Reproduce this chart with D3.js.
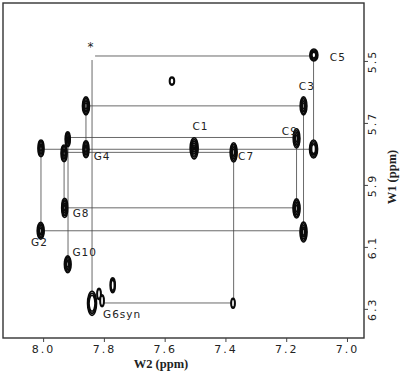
<!DOCTYPE html>
<html>
<head>
<meta charset="utf-8">
<script src="https://cdn.jsdelivr.net/npm/d3@7"></script>
<style>
  body { margin: 0; background: #fff; }
  text { font-family: "DejaVu Sans", sans-serif; fill: #222; }
</style>
</head>
<body>
<div id="nmr"></div>
<script>
// peaks: W2 / W1 position (ppm), half widths (ppm), number of contour levels
const peakW2 = [7.109, 7.576, 7.859, 7.143, 7.919, 7.166, 8.007, 7.931, 7.859, 7.503, 7.373,
  7.110, 7.929, 7.166, 8.008, 7.143, 7.919, 7.839, 7.816, 7.806, 7.771, 7.375];
const peakW1 = [5.481, 5.565, 5.645, 5.645, 5.753, 5.750, 5.782, 5.798, 5.785, 5.782, 5.795,
  5.784, 5.974, 5.976, 6.048, 6.052, 6.156, 6.282, 6.252, 6.274, 6.224, 6.282];
const peakHW2 = [0.0132, 0.0082, 0.0115, 0.011, 0.0082, 0.011, 0.0099, 0.0099, 0.0099, 0.0132, 0.0115,
  0.0132, 0.0099, 0.0115, 0.0115, 0.0115, 0.011, 0.0148, 0.0066, 0.0066, 0.0082, 0.0066];
const peakHW1 = [0.0194, 0.0129, 0.029, 0.029, 0.024, 0.031, 0.027, 0.027, 0.027, 0.034, 0.031,
  0.029, 0.031, 0.031, 0.027, 0.032, 0.027, 0.039, 0.018, 0.019, 0.024, 0.016];
const peakLevels = [4, 2, 5, 5, 5, 5, 5, 5, 5, 6, 5, 4, 5, 5, 5, 5, 5, 3, 2, 2, 3, 2];

// connectivity walk segments [w2a, w1a, w2b, w1b]
const walkSegments = [
  [7.829, 5.484, 7.112, 5.484],
  [7.839, 5.497, 7.839, 6.271],
  [7.859, 5.645, 7.145, 5.645],
  [7.918, 5.747, 7.168, 5.747],
  [8.007, 5.785, 7.112, 5.785],
  [7.931, 5.795, 7.375, 5.795],
  [7.931, 5.974, 7.168, 5.974],
  [8.007, 6.048, 7.145, 6.048],
  [7.803, 6.281, 7.375, 6.281],
  [8.007, 5.784, 8.007, 6.048],
  [7.931, 5.797, 7.931, 5.974],
  [7.918, 5.745, 7.918, 6.155],
  [7.859, 5.645, 7.859, 5.787],
  [7.373, 5.794, 7.373, 6.281],
  [7.166, 5.748, 7.166, 5.974],
  [7.143, 5.645, 7.143, 6.052],
  [7.110, 5.481, 7.110, 5.784]
];

// assignments
const labelText = ["*", "C5", "C3", "C1", "C9", "C7", "G4", "G8", "G2", "G10", "G6syn"];
const labelW2 = [7.842, 7.030, 7.132, 7.482, 7.188, 7.332, 7.806, 7.875, 8.012, 7.863, 7.740];
const labelW1 = [5.455, 5.487, 5.581, 5.710, 5.726, 5.806, 5.806, 5.990, 6.084, 6.116, 6.315];

const w2Ticks = [8.0, 7.8, 7.6, 7.4, 7.2, 7.0];
const w1Ticks = [5.5, 5.7, 5.9, 6.1, 6.3];

const width = 400, height = 372;
const frame = { left: 3, top: 3, right: 364, bottom: 338 };

const svg = d3.select("#nmr").append("svg")
  .attr("width", width)
  .attr("height", height);

const x = d3.scaleLinear().domain([8.132, 6.944]).range([frame.left, frame.right]);
const y = d3.scaleLinear().domain([5.313, 6.394]).range([frame.top, frame.bottom]);

// walk lines
svg.append("g")
  .selectAll("line")
  .data(walkSegments)
  .join("line")
  .attr("x1", d => x(d[0])).attr("y1", d => y(d[1]))
  .attr("x2", d => x(d[2])).attr("y2", d => y(d[3]))
  .attr("stroke", "#444")
  .attr("stroke-width", 0.8);

// contour peaks
const peaks = peakW2.map((w2, i) => ({
  w2, w1: peakW1[i], hw2: peakHW2[i], hw1: peakHW1[i], n: peakLevels[i]
}));

const peakG = svg.append("g")
  .selectAll("g")
  .data(peaks)
  .join("g")
  .attr("transform", d => `translate(${x(d.w2)},${y(d.w1)})`);

peakG.selectAll("ellipse")
  .data(d => d3.range(d.n).map(k => {
    const s = 1 - k * 0.17;
    return { rx: Math.abs(x(d.w2 + d.hw2) - x(d.w2)) * s, ry: Math.abs(y(d.w1 + d.hw1) - y(d.w1)) * s };
  }))
  .join("ellipse")
  .attr("rx", d => d.rx)
  .attr("ry", d => d.ry)
  .attr("fill", "#fff")
  .attr("stroke", "#0a0a0a")
  .attr("stroke-width", 1.6);

// frame
svg.append("rect")
  .attr("x", frame.left).attr("y", frame.top)
  .attr("width", frame.right - frame.left)
  .attr("height", frame.bottom - frame.top)
  .attr("fill", "none")
  .attr("stroke", "#333")
  .attr("stroke-width", 1.4);

// bottom axis
const xAxis = svg.append("g")
  .attr("transform", `translate(0,${frame.bottom})`)
  .call(d3.axisBottom(x).tickValues(w2Ticks).tickSize(4).tickFormat(d3.format(".1f")));
xAxis.select(".domain").remove();
xAxis.selectAll("line").attr("stroke", "#444");
xAxis.selectAll("text")
  .attr("y", 7)
  .style("font-family", "DejaVu Sans, sans-serif")
  .style("font-size", "11px")
  .style("letter-spacing", "2px")
  .attr("fill", "#333");

// right axis, labels rotated
const yAxis = svg.append("g")
  .attr("transform", `translate(${frame.right},0)`)
  .call(d3.axisRight(y).tickValues(w1Ticks).tickSize(4).tickFormat(d3.format(".1f")));
yAxis.select(".domain").remove();
yAxis.selectAll("line").attr("stroke", "#444");
yAxis.selectAll("text")
  .attr("x", 0).attr("dy", null)
  .attr("text-anchor", "middle")
  .attr("dominant-baseline", "central")
  .attr("transform", "translate(8,0) rotate(-90)")
  .style("font-family", "DejaVu Sans, sans-serif")
  .style("font-size", "11px")
  .style("letter-spacing", "2px")
  .attr("fill", "#333");

// axis titles
svg.append("text")
  .attr("x", 161).attr("y", 368)
  .attr("text-anchor", "middle")
  .style("font-family", "Liberation Serif, serif")
  .style("font-weight", "bold")
  .style("font-size", "12.5px")
  .attr("fill", "#111")
  .text("W2 (ppm)");

svg.append("text")
  .attr("transform", "translate(392,177) rotate(-90)")
  .attr("text-anchor", "middle")
  .attr("dominant-baseline", "central")
  .style("font-family", "Liberation Serif, serif")
  .style("font-weight", "bold")
  .style("font-size", "12.5px")
  .attr("fill", "#111")
  .text("W1 (ppm)");

// peak labels
svg.append("g")
  .selectAll("text")
  .data(labelText)
  .join("text")
  .attr("x", (d, i) => x(labelW2[i]))
  .attr("y", (d, i) => y(labelW1[i]))
  .attr("text-anchor", "middle")
  .attr("dominant-baseline", "central")
  .style("font-size", (d, i) => i === 0 ? "12px" : "10.5px")
  .style("letter-spacing", "1px")
  .attr("fill", "#222")
  .text(d => d);
</script>
</body>
</html>
